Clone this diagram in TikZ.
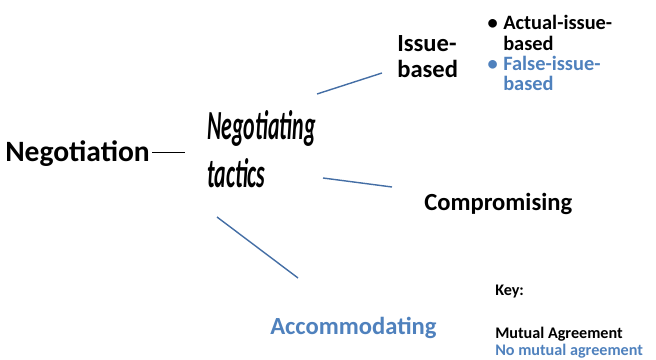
\documentclass[tikz,border=0pt]{standalone}
\usepackage{fontspec}
\setmainfont{Carlito}
\usetikzlibrary{calc}

\definecolor{tacblue}{RGB}{79,129,189}
\definecolor{linkblue}{RGB}{68,110,165}

\tikzset{
  label/.style={anchor=base west, inner sep=0pt, font=\bfseries},
  branch/.style={draw=linkblue, line width=1pt},
  tie/.style={draw=black, line width=0.7pt}
}

\begin{document}
\begin{tikzpicture}[x=0.025cm,y=-0.025cm]
\useasboundingbox (0,0) rectangle (656,360);

% Root and tactics
\node[label, font=\bfseries\fontsize{21}{24}\selectfont] (neg) at (5,162) {Negotiation};
\node[anchor=base west, inner sep=0pt] (tactics) at (207,140)
  {\scalebox{0.74}[1.4]{\fontsize{21}{24}\selectfont\bfseries\itshape\begin{tabular}[t]{@{}l@{}}Negotiating\\ tactics\end{tabular}}};

% Branches
\node[label, font=\bfseries\fontsize{17.5}{18.4}\selectfont] (issue) at (397,52)
  {\begin{tabular}[t]{@{}l@{}}Issue-\\ based\end{tabular}};
\node[label, font=\bfseries\fontsize{14.5}{14.2}\selectfont] (kinds) at (503,30)
  {\begin{tabular}[t]{@{}l@{}}\llap{\textbullet\hspace{4pt}}Actual-issue-\\ based\\
   \color{tacblue}\llap{\textbullet\hspace{4pt}}False-issue-\\ \color{tacblue}based\end{tabular}};
\node[label, font=\bfseries\fontsize{17.5}{21}\selectfont] (compromise) at (424,210) {Compromising};
\node[label, font=\bfseries\fontsize{17.5}{21}\selectfont, text=tacblue] (accommodate) at (270,334) {Accommodating};

% Key
\node[label, font=\bfseries\fontsize{11.5}{14}\selectfont] (key) at (495,295) {Key:};
\node[label, font=\bfseries\fontsize{11.5}{14}\selectfont] (agree) at (495,338) {Mutual Agreement};
\node[label, font=\bfseries\fontsize{11.5}{14}\selectfont, text=tacblue] (noagree) at (495,355.5) {No mutual agreement};

% Connectors
\draw[tie] ($(neg.base east)+(2,-10)$) -- ($(tactics.base west)+(-22,12)$);
\draw[branch] ($(tactics.base west)+(110,-46)$) -- ($(issue.base west)+(-15,21)$);
\draw[branch] ($(tactics.base west)+(116,38)$) -- ($(compromise.base west)+(-32,-23)$);
\draw[branch] ($(tactics.base west)+(10,77)$) -- ($(accommodate.base west)+(28,-56)$);

\end{tikzpicture}
\end{document}
